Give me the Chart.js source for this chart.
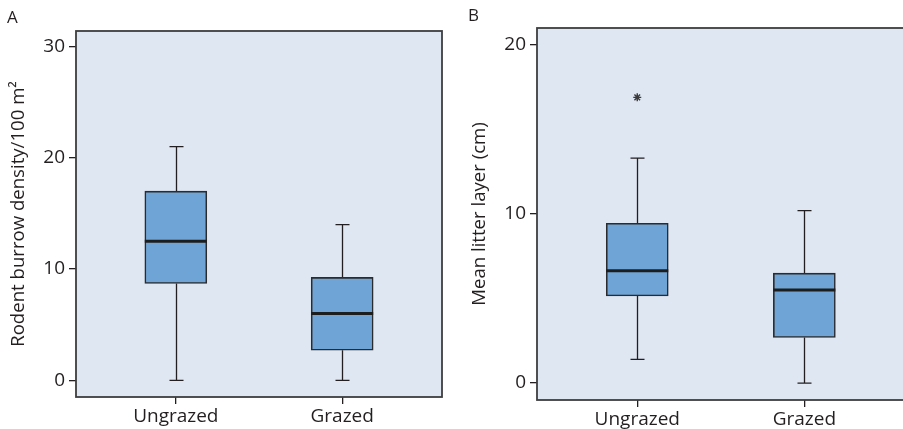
<!DOCTYPE html>
<html>
<head>
<meta charset="utf-8">
<script src="https://cdn.jsdelivr.net/npm/chart.js@4.4.1/dist/chart.umd.min.js"></script>
<style>
  html, body { margin: 0; padding: 0; background: #fff; overflow: hidden; }
  #wrap { position: relative; width: 903px; height: 429px; overflow: hidden; }
  canvas { position: absolute; top: 0; }
</style>
</head>
<body>
<div id="wrap">
  <canvas id="chartA" width="450" height="429" style="left:0"></canvas>
  <canvas id="chartB" width="460" height="429" style="left:450px"></canvas>
</div>
<script>
Chart.defaults.font.family = '"Open Sans", "DejaVu Sans", sans-serif'
Chart.defaults.color = '#231f20'

// groups on the x axis
const groups = ['Ungrazed', 'Grazed']

// A: rodent burrow density / 100 m2
const burrowMin = [0, 0]
const burrowQ1 = [8.7, 2.7]
const burrowMedian = [12.5, 6.0]
const burrowQ3 = [17.0, 9.25]
const burrowMax = [21.0, 14.0]
const burrowOutliers = [[], []]
const burrowTicks = [0, 10, 20, 30]

// B: mean litter layer (cm)
const litterMin = [1.4, 0]
const litterQ1 = [5.15, 2.7]
const litterMedian = [6.65, 5.5]
const litterQ3 = [9.45, 6.5]
const litterMax = [13.3, 10.2]
const litterOutliers = [[16.9], []]
const litterTicks = [0, 10, 20]

const ink = '#231f20'
const frameColor = '#3d3d3f'
const plotBg = '#dfe7f3'
const boxFill = '#6fa4d6'

// background + frame of the plot area, panel letter
const panelFrame = {
    id: 'panelFrame',
    beforeDraw(chart, args, opts) {
        const { ctx, chartArea: a } = chart
        ctx.save()
        ctx.fillStyle = plotBg
        ctx.fillRect(a.left, a.top, a.right - a.left, a.bottom - a.top)
        ctx.restore()
    },
    afterDraw(chart, args, opts) {
        const { ctx, chartArea: a } = chart
        ctx.save()
        ctx.strokeStyle = frameColor
        ctx.lineWidth = 1.8
        ctx.strokeRect(a.left, a.top, a.right - a.left, a.bottom - a.top)
        ctx.fillStyle = ink
        ctx.font = '17px "Open Sans", sans-serif'
        ctx.textBaseline = 'alphabetic'
        ctx.fillText(opts.letter, opts.letterX, opts.letterY)
        ctx.restore()
    }
}

// whiskers, caps and medians, placed through the chart's scales
const whiskers = {
    id: 'whiskers',
    beforeDatasetsDraw(chart, args, opts) {
        const { ctx, scales: { x, y } } = chart
        ctx.save()
        ctx.strokeStyle = ink
        ctx.lineWidth = 1.3
        opts.lows.forEach((lo, i) => {
            const px = Math.round(x.getPixelForValue(i + 1)) + 0.5
            const yLo = y.getPixelForValue(lo), yHi = y.getPixelForValue(opts.highs[i])
            ctx.beginPath()
            ctx.moveTo(px, yLo); ctx.lineTo(px, y.getPixelForValue(opts.q1[i]))
            ctx.moveTo(px, yHi); ctx.lineTo(px, y.getPixelForValue(opts.q3[i]))
            ctx.moveTo(px - 7, yLo); ctx.lineTo(px + 7, yLo)
            ctx.moveTo(px - 7, yHi); ctx.lineTo(px + 7, yHi)
            ctx.stroke()
        })
        ctx.restore()
    },
    afterDatasetsDraw(chart, args, opts) {
        const { ctx, scales: { x, y } } = chart
        ctx.save()
        ctx.strokeStyle = '#1d1d1d'
        ctx.lineWidth = 3
        opts.medians.forEach((m, i) => {
            const px = x.getPixelForValue(i + 1)
            const py = y.getPixelForValue(m)
            ctx.beginPath()
            ctx.moveTo(px - 31, py); ctx.lineTo(px + 31, py)
            ctx.stroke()
        })
        ctx.restore()
    }
}

function makePanel(id, p) {
    const boxes = groups.map((g, i) => ({ x: i + 1, y: [p.q1[i], p.q3[i]] }))
    const outliers = []
    p.outliers.forEach((list, i) => list.forEach(v => outliers.push({ x: i + 1, y: v })))

    return new Chart(document.getElementById(id), {
        type: 'bar',
        data: {
            datasets: [
                {
                    data: boxes,
                    backgroundColor: boxFill,
                    borderColor: '#2b2b2d',
                    borderWidth: 1.6,
                    borderSkipped: false,
                    barThickness: 62,
                },
                {
                    type: 'scatter',
                    data: outliers,
                    pointStyle: 'star',
                    radius: 4,
                    borderColor: '#3a3a3a',
                    borderWidth: 1.4,
                }
            ]
        },
        plugins: [panelFrame, whiskers],
        options: {
            responsive: false,
            animation: false,
            events: [],
            layout: { padding: p.padding },
            plugins: {
                legend: { display: false },
                tooltip: { enabled: false },
                panelFrame: { letter: p.letter, letterX: p.letterX, letterY: p.letterY },
                whiskers: { lows: p.lows, highs: p.highs, medians: p.medians, q1: p.q1, q3: p.q3 },
            },
            scales: {
                x: {
                    type: 'linear',
                    min: 0.4,
                    max: 2.6,
                    offset: false,
                    afterBuildTicks: s => { s.ticks = groups.map((g, i) => ({ value: i + 1 })) },
                    afterFit: s => { s.height = p.xHeight },
                    grid: { offset: false, drawOnChartArea: false, drawTicks: true, tickLength: 7, color: ink, lineWidth: 1.3 },
                    border: { display: false },
                    ticks: {
                        font: { size: 19 },
                        color: ink,
                        padding: 1,
                        maxRotation: 0,
                        autoSkip: false,
                        callback: v => groups[v - 1] || '',
                    },
                },
                y: {
                    min: p.yMin,
                    max: p.yMax,
                    afterBuildTicks: s => { s.ticks = p.ticks.map(v => ({ value: v })) },
                    afterFit: s => { s.width = p.yWidth },
                    grid: { drawOnChartArea: false, drawTicks: true, tickLength: 7, color: ink, lineWidth: 1.3 },
                    border: { display: false },
                    ticks: { font: { size: 19 }, color: ink, padding: 4 },
                    title: {
                        display: true,
                        text: p.title,
                        font: { size: 18.6 },
                        color: ink,
                        padding: { top: p.titlePad, bottom: 0 },
                    },
                },
            },
        },
    })
}

makePanel('chartA', {
    letter: 'A', letterX: 7, letterY: 23,
    q1: burrowQ1, q3: burrowQ3, medians: burrowMedian, lows: burrowMin, highs: burrowMax,
    outliers: burrowOutliers, ticks: burrowTicks,
    yMin: -1.5, yMax: 31.4,
    title: 'Rodent burrow density/100 m\u00B2',
    titlePad: 8, yWidth: 76, xHeight: 32,
    padding: { left: 0, right: 8, top: 31, bottom: 0 },
})

makePanel('chartB', {
    letter: 'B', letterX: 18, letterY: 21,
    q1: litterQ1, q3: litterQ3, medians: litterMedian, lows: litterMin, highs: litterMax,
    outliers: litterOutliers, ticks: litterTicks,
    yMin: -1.0, yMax: 21.0,
    title: 'Mean litter layer (cm)',
    titlePad: 19, yWidth: 87, xHeight: 29,
    padding: { left: 0, right: 2, top: 28, bottom: 0 },
})
</script>
</body>
</html>
